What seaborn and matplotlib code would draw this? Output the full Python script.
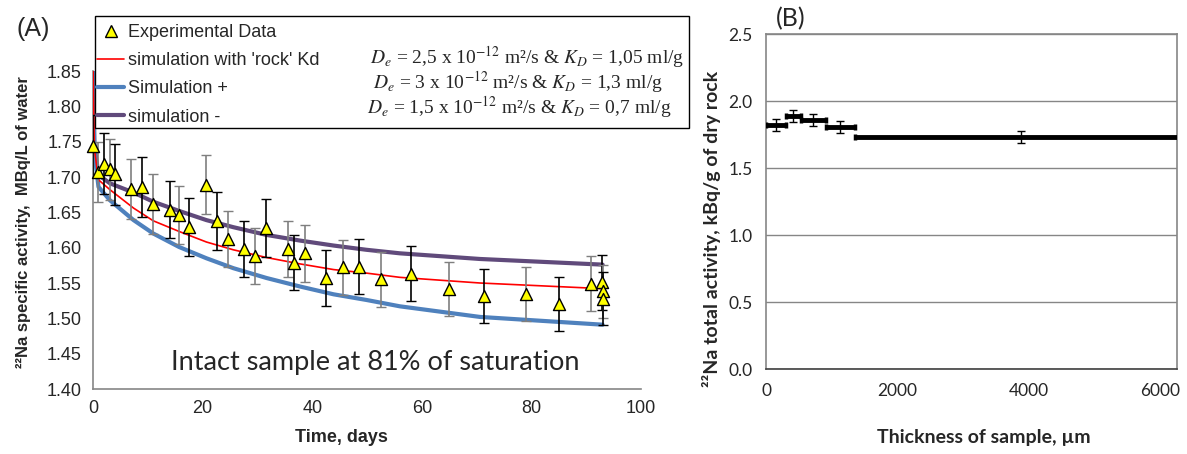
import numpy as np
import pandas as pd
import matplotlib
matplotlib.use("Agg")
import matplotlib.pyplot as plt
import seaborn as sns
from matplotlib.lines import Line2D
from matplotlib.patches import Rectangle

# ---- panel A : water activity vs time ----
time_days = [0, 1.0, 2.0, 3.1, 4.1, 7.0, 9.0, 11.0, 14.1, 15.7, 17.6, 20.7, 22.6, 24.6,
             27.6, 29.6, 31.6, 35.6, 36.6, 38.6, 42.6, 45.6, 48.6, 52.6, 58.0, 65.0,
             71.3, 79.0, 85.0, 90.9, 92.9, 93.0, 93.0]
activity = [1.744, 1.707, 1.719, 1.711, 1.704, 1.683, 1.686, 1.662, 1.654, 1.646, 1.629,
            1.689, 1.638, 1.612, 1.598, 1.588, 1.628, 1.598, 1.579, 1.592, 1.557, 1.572,
            1.573, 1.555, 1.563, 1.542, 1.532, 1.534, 1.520, 1.549, 1.551, 1.538, 1.528]
activity_err = [0.044, 0.043, 0.043, 0.043, 0.043, 0.042, 0.042, 0.042, 0.041, 0.041, 0.041,
                0.042, 0.041, 0.040, 0.040, 0.040, 0.041, 0.040, 0.039, 0.040, 0.039, 0.039,
                0.039, 0.039, 0.039, 0.038, 0.038, 0.038, 0.038, 0.039, 0.039, 0.038, 0.038]

sim_time = [0, 0.25, 1.0, 3.1, 7.4, 11.0, 15.7, 20.7, 25.6, 31.7, 37.8, 43.9, 49.9, 56.0, 70.6, 93.0]
sim_rock = [1.86, 1.740, 1.696, 1.682, 1.656, 1.638, 1.623, 1.608, 1.597, 1.586, 1.577, 1.569,
            1.564, 1.558, 1.550, 1.542]
sim_plus = [1.86, 1.735, 1.686, 1.667, 1.639, 1.620, 1.601, 1.585, 1.571, 1.557, 1.545, 1.534,
            1.526, 1.517, 1.502, 1.491]
sim_minus = [1.86, 1.745, 1.703, 1.691, 1.678, 1.665, 1.652, 1.639, 1.629, 1.618, 1.610, 1.603,
             1.597, 1.592, 1.584, 1.576]

legend_labels = ["Experimental Data", "simulation with 'rock' Kd", "Simulation +", "simulation -"]
param_labels = [r"$D_e$ = 2,5 x 10$^{-12}$ m²/s & $K_D$ = 1,05 ml/g",
                r"$D_e$ = 3 x 10$^{-12}$ m²/s & $K_D$ = 1,3 ml/g",
                r"$D_e$ = 1,5 x 10$^{-12}$ m²/s & $K_D$ = 0,7 ml/g"]

# ---- panel B : rock profile ----
slice_left = [0, 299, 527, 908, 1350]
slice_right = [299, 527, 908, 1350, 6400]
slice_mid = [146, 410, 715, 1121, 3874]
rock_activity = [1.82, 1.888, 1.858, 1.807, 1.731]
rock_err = [0.045, 0.046, 0.045, 0.044, 0.044]

sns.set_style("white")
plt.rcParams['font.family'] = ['Liberation Sans', 'DejaVu Sans']
plt.rcParams['mathtext.fontset'] = 'stix'

W, H = 1187, 454
fig = plt.figure(figsize=(W / 100, H / 100), dpi=100)


def box(l, t, r, b):
    return [l / W, 1 - b / H, (r - l) / W, (b - t) / H]


gray = "#868686"
blue = "#4F81BD"
purple = "#604A7B"
calibri = ["Lato", "DejaVu Sans"]

# panel A
ax = fig.add_axes(box(93, 71, 641, 389))
sim = pd.DataFrame({"t": sim_time, "rock": sim_rock, "plus": sim_plus, "minus": sim_minus})
sns.lineplot(data=sim, x="t", y="minus", ax=ax, color=purple, lw=3, zorder=2)
sns.lineplot(data=sim, x="t", y="plus", ax=ax, color=blue, lw=3, zorder=2)
sns.lineplot(data=sim, x="t", y="rock", ax=ax, color="red", lw=1.2, zorder=3)

for i, (t, v, e) in enumerate(zip(time_days, activity, activity_err)):
    c = "black" if i % 2 == 0 else "#7f7f7f"
    ax.errorbar(t, v, yerr=e, fmt="none", ecolor=c, elinewidth=1.2, capsize=3.5, zorder=4)
exp = pd.DataFrame({"t": time_days, "v": activity})
sns.scatterplot(data=exp, x="t", y="v", ax=ax, marker="^", s=75, color="#FFFF00",
                edgecolor="black", linewidth=1, zorder=5, clip_on=False)

ax.set_xlim(0, 100)
ax.set_ylim(1.40, 1.85)
ax.set_xticks(np.arange(0, 101, 20))
ax.set_yticks(np.arange(1.40, 1.851, 0.05))
ax.set_yticklabels([f"{v:.2f}" for v in np.arange(1.40, 1.851, 0.05)])
ax.tick_params(axis="both", direction="out", length=5, color=gray, labelsize=13, pad=3)
for s in ["top", "right"]:
    ax.spines[s].set_visible(False)
for s in ["left", "bottom"]:
    ax.spines[s].set_color(gray)
    ax.spines[s].set_linewidth(1.2)
ax.set_xlabel("Time, days", fontsize=13, fontweight="bold")
ax.set_ylabel("²²Na specific activity,  MBq/L of water", fontsize=12, fontweight="bold")
ax.xaxis.set_label_coords(0.454, -0.126)
ax.yaxis.set_label_coords(-0.113, 0.525)
ax.text(0.515, 0.082, "Intact sample at 81% of saturation", transform=ax.transAxes,
        ha="center", va="center", fontsize=19.5, family=calibri)

# legend box with parameters
fig.patches.append(Rectangle((95 / W, 1 - 128 / H), (689 - 95) / W, (128 - 16) / H,
                             transform=fig.transFigure, facecolor="white",
                             edgecolor="black", lw=1, zorder=1))
handles = [Line2D([], [], ls="none", marker="^", ms=9, mfc="#FFFF00", mec="black"),
           Line2D([], [], color="red", lw=1.2),
           Line2D([], [], color=blue, lw=3),
           Line2D([], [], color=purple, lw=3)]
fig.legend(handles, legend_labels, loc="upper left", bbox_to_anchor=(97 / W, 1 - 24 / H),
           frameon=False, fontsize=13, handlelength=1.5, handletextpad=0.2,
           labelspacing=0.62, borderpad=0, borderaxespad=0)
for y, x, lab in zip([57, 82, 107], [370, 373, 367], param_labels):
    fig.text(x / W, 1 - y / H, lab, ha="left", va="center", fontsize=14,
             family=["Liberation Serif", "DejaVu Serif"])

fig.text(16 / W, 1 - 29 / H, "(A)", fontsize=18, va="center", ha="left")

# panel B
bx = fig.add_axes(box(766.4, 34.3, 1176.7, 369))
xerr = [np.subtract(slice_mid, slice_left), np.subtract(slice_right, slice_mid)]
bx.errorbar(slice_mid, rock_activity, xerr=xerr, fmt="none", ecolor="black",
            elinewidth=3.5, capsize=2, capthick=2.5, zorder=3)
bx.errorbar(slice_mid, rock_activity, yerr=rock_err, fmt="none", ecolor="black",
            elinewidth=1, capsize=3, zorder=4)
bx.set_xlim(0, 6250)
bx.set_ylim(0, 2.5)
bx.set_xticks([0, 2000, 4000, 6000])
bx.set_yticks(np.arange(0, 2.51, 0.5))
bx.set_yticklabels([f"{v:.1f}" for v in np.arange(0, 2.51, 0.5)])
bx.grid(axis="y", color=gray, lw=1)
bx.set_axisbelow(True)
for s in bx.spines.values():
    s.set_color(gray)
    s.set_linewidth(1.2)
bx.spines["bottom"].set_color("#404040")
bx.tick_params(axis="both", direction="out", length=5, color=gray, labelsize=12.5, pad=5)
for lab in bx.get_xticklabels() + bx.get_yticklabels():
    lab.set_family(calibri)
bx.set_xlabel("Thickness of sample, µm", fontsize=14, fontweight="bold", family=calibri)
bx.set_ylabel("²²Na total activity, kBq/g of dry rock", fontsize=14, fontweight="bold",
              family=calibri)
bx.xaxis.set_label_coords(0.529, -0.179)
bx.yaxis.set_label_coords(-0.111, 0.418)
fig.text(776 / W, 1 - 19 / H, "(B)", fontsize=18, va="center", ha="left", family=calibri)

fig.savefig("out.png", dpi=100)
